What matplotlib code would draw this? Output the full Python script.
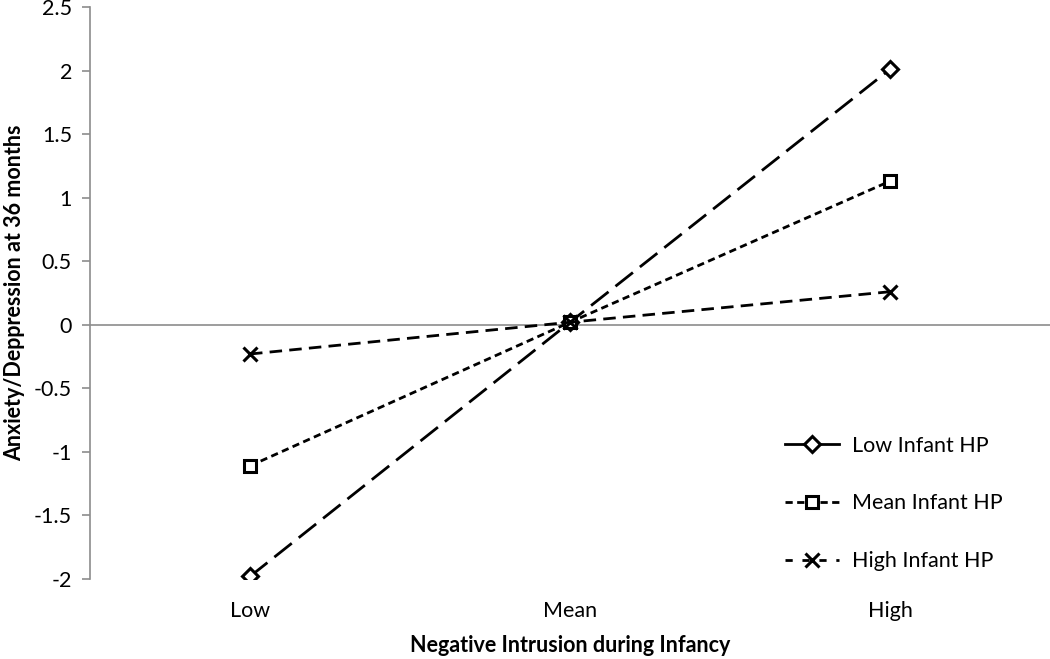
import matplotlib
matplotlib.use("Agg")
import matplotlib.pyplot as plt
from matplotlib.lines import Line2D

plt.rcParams['font.family'] = ['Lato', 'DejaVu Sans']

categories = ["Low", "Mean", "High"]
series_names = ["Low Infant HP", "Mean Infant HP", "High Infant HP"]
low_hp = [-1.98, 0.02, 2.01]
mean_hp = [-1.11, 0.02, 1.13]
high_hp = [-0.23, 0.02, 0.26]
y_ticks = [-2, -1.5, -1, -0.5, 0, 0.5, 1, 1.5, 2, 2.5]
y_tick_labels = ["-2", "-1.5", "-1", "-0.5", "0", "0.5", "1", "1.5", "2", "2.5"]

fig = plt.figure(figsize=(10.5, 6.59), dpi=100)
ax = fig.add_axes([90/1050, 1 - 579/659, 960/1050, (579-7)/659])

x = list(range(len(categories)))
lw = 2.0
fs = 15.5
styles = [
    dict(marker='D', dashes=(8, 3.2), ms=8),
    dict(marker='s', dashes=(2.6, 1.6), ms=9),
    dict(marker='x', dashes=(4.5, 2.6), ms=10),
]
handles = []
for vals, name, st, leg_dash in zip([low_hp, mean_hp, high_hp], series_names, styles,
                                     [None, (2.6, 1.6), (2.6, 3.5)]):
    ax.plot(x, vals, color='black', lw=lw, dashes=st['dashes'], marker=st['marker'],
            ms=st['ms'], mfc='white', mec='black', mew=2.2, zorder=3)
    if leg_dash is None:
        h = Line2D([], [], color='black', lw=lw, linestyle='-', marker=st['marker'],
                   ms=st['ms'], mfc='white', mec='black', mew=2.2)
    else:
        h = Line2D([], [], color='black', lw=lw, dashes=leg_dash, marker=st['marker'],
                   ms=st['ms'], mfc='white', mec='black', mew=2.2)
    handles.append(h)

ax.set_xlim(-0.5, 2.5)
ax.set_ylim(-2, 2.5)
ax.axhline(0, color='#8c8c8c', lw=1.2, zorder=1)

for s in ['top', 'right', 'bottom']:
    ax.spines[s].set_visible(False)
ax.spines['left'].set_color('#8c8c8c')
ax.spines['left'].set_linewidth(1.2)

ax.set_yticks(y_ticks)
ax.set_yticklabels(y_tick_labels, fontsize=fs)
ax.tick_params(axis='y', length=6, width=1.2, color='#8c8c8c', pad=7)
ax.set_xticks(x)
ax.set_xticklabels(categories, fontsize=fs)
ax.tick_params(axis='x', length=0, pad=16)

fig.text(ax.get_position().x0 + ax.get_position().width / 2 * (1 + 0) - (0.5 * 960 - 480) / 1050,
         1 - 645/659, "Negative Intrusion during Infancy", fontsize=fs, fontweight='bold',
         ha='center', va='center')
ax.set_ylabel("Anxiety/Deppression at 36 months", fontsize=fs, fontweight='bold', labelpad=6)

leg = ax.legend(handles=handles, labels=series_names, loc='lower right',
                bbox_to_anchor=(0.971, -0.02), frameon=False, fontsize=fs,
                handlelength=2.5, labelspacing=1.75, handletextpad=0.6)

fig.savefig("out.png", dpi=100)
